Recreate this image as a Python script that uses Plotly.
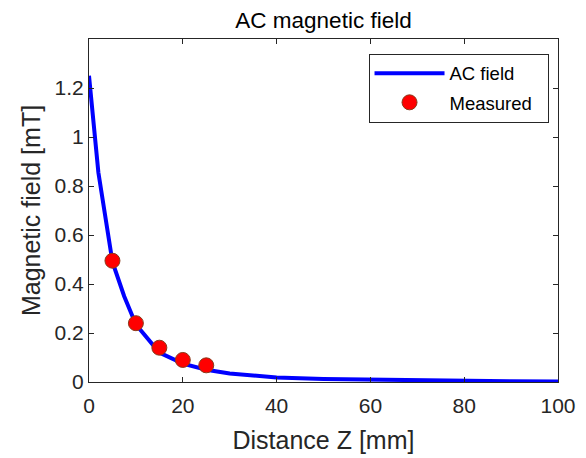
import plotly.graph_objects as go

# Modelled AC field along the axis (mm, mT)
z_model = [0, 2, 5, 7.5, 10, 15, 20, 25, 30, 40, 50, 60, 70, 80, 90, 100]
b_model = [1.25, 0.855, 0.49, 0.35, 0.235, 0.12, 0.075, 0.05, 0.035, 0.018, 0.012, 0.009, 0.006, 0.004, 0.003, 0.002]

# Measured points
z_meas = [5, 10, 15, 20, 25]
b_meas = [0.495, 0.24, 0.14, 0.09, 0.068]

x_ticks = [0, 20, 40, 60, 80, 100]
y_ticks = [0, 0.2, 0.4, 0.6, 0.8, 1, 1.2]
y_tick_text = ["0", "0.2", "0.4", "0.6", "0.8", "1", "1.2"]

FONT = "Liberation Sans, Arial, sans-serif"
AXIS_COLOR = "#262626"
PAD = "\u00a0\u00a0"  # right-hand padding inside the legend box

fig = go.Figure()
fig.add_trace(go.Scatter(
    x=z_model, y=b_model, mode="lines", name="AC field" + PAD, legendgroup="model",
    line=dict(color="#0000ff", width=4),
))
fig.add_trace(go.Scatter(
    x=z_meas, y=b_meas, mode="markers", name="Measured" + PAD, legendgroup="meas",
    marker=dict(color="#ff0000", size=15, line=dict(color="#8a3a1a", width=1)),
))

axis_common = dict(
    showline=True, linecolor=AXIS_COLOR, linewidth=1, mirror="ticks",
    ticks="inside", ticklen=5, tickcolor=AXIS_COLOR, tickwidth=1,
    showgrid=False, zeroline=False, automargin=False,
    tickfont=dict(family=FONT, size=21, color=AXIS_COLOR),
)

fig.update_layout(
    width=586, height=458,
    margin=dict(l=89, r=28, t=39, b=76),
    plot_bgcolor="white", paper_bgcolor="white",
    title=dict(text="AC magnetic field", x=0.5, xref="paper", y=0.955, yref="container",
               xanchor="center", yanchor="middle",
               font=dict(family=FONT, size=22.5, color="#000000")),
    xaxis=dict(range=[0, 100], tickvals=x_ticks, ticklabelstandoff=5,
               title=dict(text="Distance Z [mm]", font=dict(family=FONT, size=25, color=AXIS_COLOR),
                          standoff=15),
               **axis_common),
    yaxis=dict(range=[0, 1.4], tickvals=y_ticks, ticktext=y_tick_text,
               title=dict(text="Magnetic field [mT]", font=dict(family=FONT, size=25, color=AXIS_COLOR),
                          standoff=6),
               **axis_common),
    legend=dict(x=0.596, y=0.957, xanchor="left", yanchor="top",
                bgcolor="white", bordercolor=AXIS_COLOR, borderwidth=1,
                font=dict(family=FONT, size=18.5, color="#000000"),
                itemwidth=70, tracegroupgap=2),
    showlegend=True,
)

fig.write_html("out.html")
